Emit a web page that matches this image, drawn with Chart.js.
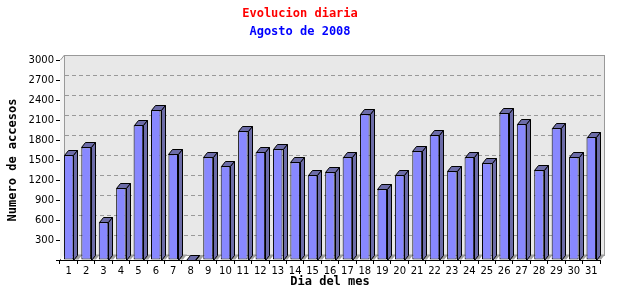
<!DOCTYPE html>
<html>
<head>
<meta charset="utf-8">
<script src="https://cdn.jsdelivr.net/npm/chart.js@4.4.1/dist/chart.umd.min.js"></script>
<style>
  html, body { margin: 0; padding: 0; background: #fff; }
</style>
</head>
<body>
<canvas id="chart" width="640" height="300"></canvas>
<script>
// Daily visits, August 2008
const dias = ['1','2','3','4','5','6','7','8','9','10','11','12','13','14','15','16',
              '17','18','19','20','21','22','23','24','25','26','27','28','29','30','31'];
const accesos = [1570, 1690, 565, 1075, 2020, 2245, 1585, 0, 1540, 1405, 1930, 1615, 1660,
                 1465, 1270, 1315, 1540, 2185, 1060, 1270, 1630, 1870, 1330, 1540, 1450,
                 2200, 2035, 1345, 1975, 1540, 1840];
const yMax = 3000;
const yStep = 300;

const DX = 4, DY = 5; // depth of the fake 3D

// Back wall, side wall and dashed grid behind the bars.
const wallPlugin = {
    id: 'wall3d',
    beforeDatasetsDraw(chart) {
        const { ctx, chartArea: a, scales: { y } } = chart;
        ctx.save();
        // left side wall
        ctx.fillStyle = '#f4f4f4';
        ctx.beginPath();
        ctx.moveTo(a.left, a.top);
        ctx.lineTo(a.left + DX, a.top - DY);
        ctx.lineTo(a.left + DX, a.bottom - DY);
        ctx.lineTo(a.left, a.bottom);
        ctx.closePath();
        ctx.fill();
        // back wall
        ctx.fillStyle = '#e8e8e8';
        ctx.fillRect(a.left + DX, a.top - DY, a.right - a.left, a.bottom - a.top);
        ctx.strokeStyle = '#999';
        ctx.lineWidth = 1;
        ctx.strokeRect(a.left + DX + 0.5, a.top - DY + 0.5, a.right - a.left, a.bottom - a.top);
        ctx.beginPath();
        ctx.moveTo(a.left + 0.5, a.top);
        ctx.lineTo(a.left + DX + 0.5, a.top - DY);
        ctx.stroke();
        // dashed grid on the back wall
        ctx.setLineDash([4, 3]);
        ctx.strokeStyle = '#999';
        for (let v = yStep; v < yMax; v += yStep) {
            const py = Math.round(y.getPixelForValue(v) - DY) + 0.5;
            ctx.beginPath();
            ctx.moveTo(a.left + DX + 1, py);
            ctx.lineTo(a.right + DX, py);
            ctx.stroke();
        }
        ctx.setLineDash([]);
        // floor shadows of the bars
        const meta = chart.getDatasetMeta(0);
        ctx.fillStyle = '#a0a0a0';
        meta.data.forEach(bar => {
            const r = bar.x + bar.width / 2;
            const b = bar.base;
            ctx.beginPath();
            ctx.moveTo(r, b);
            ctx.lineTo(r + 5, b);
            ctx.lineTo(r + 5 + DX, b - DY);
            ctx.lineTo(r + DX, b - DY);
            ctx.closePath();
            ctx.fill();
        });
        ctx.restore();
    },
    afterDatasetsDraw(chart) {
        const { ctx } = chart;
        const meta = chart.getDatasetMeta(0);
        ctx.save();
        ctx.fillStyle = '#6c6ca8';
        ctx.strokeStyle = '#000';
        ctx.lineWidth = 1;
        meta.data.forEach(bar => {
            const l = Math.round(bar.x - bar.width / 2) + 0.5;
            const r = Math.round(bar.x + bar.width / 2) + 0.5;
            const t = Math.round(bar.y) + 0.5;
            const b = Math.round(bar.base) + 0.5;
            // top face
            ctx.beginPath();
            ctx.moveTo(l, t);
            ctx.lineTo(l + DX, t - DY);
            ctx.lineTo(r + DX, t - DY);
            ctx.lineTo(r, t);
            ctx.closePath();
            ctx.fill();
            ctx.stroke();
            // side face
            ctx.beginPath();
            ctx.moveTo(r, t);
            ctx.lineTo(r + DX, t - DY);
            ctx.lineTo(r + DX, b - DY);
            ctx.lineTo(r, b);
            ctx.closePath();
            ctx.fill();
            ctx.stroke();
        });
        ctx.restore();
    }
};

const monoBold = { family: "'DejaVu Sans Mono', monospace", size: 12, weight: 'bold' };

new Chart(document.getElementById('chart'), {
    type: 'bar',
    data: {
        labels: dias,
        datasets: [{
            data: accesos,
            backgroundColor: '#8888ff',
            borderColor: '#000',
            borderWidth: 1,
            borderSkipped: false,
            barPercentage: 0.55,
            categoryPercentage: 1.0
        }]
    },
    options: {
        responsive: false,
        animation: false,
        layout: { padding: { left: 0, right: 40, top: 0, bottom: 0 } },
        plugins: {
            legend: { display: false },
            tooltip: { enabled: false },
            title: {
                display: true,
                text: 'Evolucion diaria',
                color: '#ff0000',
                font: monoBold,
                padding: { top: 7, bottom: 3.6 }
            },
            subtitle: {
                display: true,
                text: 'Agosto de 2008',
                color: '#0000ff',
                font: monoBold,
                padding: { top: 0, bottom: 20.6 }
            }
        },
        scales: {
            x: {
                afterFit: s => { s.height = 40; },
                grid: { display: true, drawOnChartArea: false, drawTicks: true, tickLength: 4, color: '#000', offset: true },
                border: { display: true, color: '#000' },
                ticks: { color: '#000', font: { family: "'DejaVu Sans', sans-serif", size: 10 }, padding: 1, maxRotation: 0, autoSkip: false },
                title: { display: true, text: 'Dia del mes', color: '#000', font: monoBold, padding: { top: 0, bottom: 11 } }
            },
            y: {
                min: 0,
                max: yMax,
                afterFit: s => { s.width = 60; },
                grid: { display: true, drawOnChartArea: false, drawTicks: true, tickLength: 4, color: '#000' },
                border: { display: true, color: '#000' },
                ticks: {
                    stepSize: yStep,
                    color: '#000',
                    padding: 2,
                    font: { family: "'DejaVu Sans', sans-serif", size: 10 },
                    callback: v => (v === 0 ? '' : v)
                },
                title: { display: true, text: 'Numero de accesos', color: '#000', font: monoBold, padding: { top: 6, bottom: 0 } }
            }
        }
    },
    plugins: [wallPlugin]
});
</script>
</body>
</html>
